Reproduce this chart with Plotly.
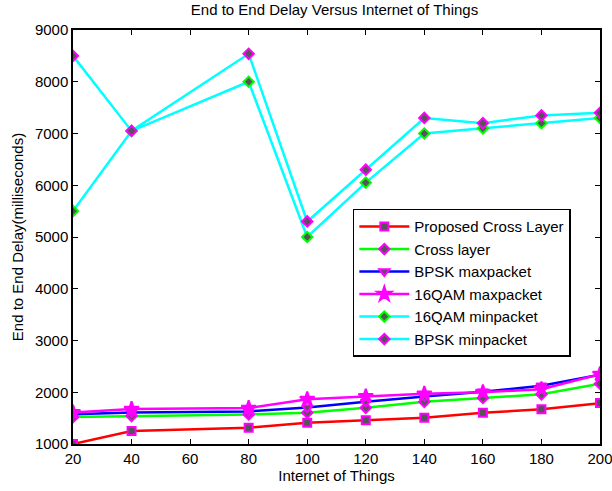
import plotly.graph_objects as go

x_vals = [20, 40, 80, 100, 120, 140, 160, 180, 200]

proposed_cross_layer = [1000, 1250, 1315, 1410, 1460, 1505, 1605, 1670, 1790]
cross_layer = [1520, 1540, 1570, 1605, 1700, 1815, 1890, 1960, 2165]
bpsk_maxpacket = [1575, 1610, 1630, 1705, 1815, 1920, 2010, 2125, 2340]
qam16_maxpacket = [1610, 1675, 1695, 1865, 1920, 1970, 2000, 2060, 2350]
qam16_minpacket = [5500, 7050, 8000, 5000, 6050, 7000, 7100, 7200, 7300]
bpsk_minpacket = [8500, 7050, 8540, 5300, 6300, 7300, 7200, 7350, 7400]

x_ticks = [20, 40, 60, 80, 100, 120, 140, 160, 180, 200]
y_ticks = [1000, 2000, 3000, 4000, 5000, 6000, 7000, 8000, 9000]

FONT = "Liberation Sans, Arial, Helvetica, sans-serif"

series = [
    ("Proposed Cross Layer", proposed_cross_layer, "#ff0000", "square", "#555555", "#ff00ff", 8),
    ("Cross layer", cross_layer, "#00ff00", "diamond", "#555555", "#ff00ff", 8),
    ("BPSK maxpacket", bpsk_maxpacket, "#0000ff", "triangle-down", "#555555", "#ff00ff", 9),
    ("16QAM maxpacket", qam16_maxpacket, "#ff00ff", "star", "#ff00ff", "#ff00ff", 11),
    ("16QAM minpacket", qam16_minpacket, "#00ffff", "diamond", "#555555", "#00ff00", 8),
    ("BPSK minpacket", bpsk_minpacket, "#00ffff", "diamond", "#555555", "#ff00ff", 8),
]

fig = go.Figure()
for name, vals, lc, sym, face, edge, size in series:
    fig.add_trace(go.Scatter(
        x=x_vals, y=vals, name=name, mode="lines+markers",
        line=dict(color=lc, width=2.5),
        marker=dict(symbol=sym, size=size, color=face, line=dict(color=edge, width=2)),
    ))

axis_common = dict(
    showgrid=False, zeroline=False, showline=True, linecolor="black", linewidth=1.5,
    mirror="ticks", ticks="inside", ticklen=5, tickcolor="black", automargin=False,
    ticklabeloverflow="allow",
    tickfont=dict(family=FONT, size=15, color="black"),
)

fig.update_xaxes(range=[20, 200], tickvals=x_ticks,
                 title=dict(text="Internet of Things", standoff=2,
                            font=dict(family=FONT, size=15, color="black")),
                 **axis_common)
fig.update_yaxes(range=[1000, 9000], tickvals=y_ticks,
                 title=dict(text="End to End Delay(milliseconds)", standoff=8,
                            font=dict(family=FONT, size=15, color="black")),
                 **axis_common)

fig.update_layout(
    width=612, height=491,
    margin=dict(l=73, r=12, t=30, b=47),
    paper_bgcolor="white", plot_bgcolor="white",
    title=dict(text="End to End Delay Versus Internet of Things", x=0.5466, xanchor="center",
               y=1 - 4 / 491, yanchor="top",
               font=dict(family=FONT, size=15, color="black")),
    legend=dict(x=0.531, y=0.568, xanchor="left", yanchor="top",
                bgcolor="white", bordercolor="black", borderwidth=1.5,
                font=dict(family=FONT, size=15, color="black"),
                itemwidth=50, tracegroupgap=0),
    showlegend=True,
)

fig.write_html(
    "out.html",
    config={"displayModeBar": False},
    post_script="document.body.style.margin='0';document.body.style.overflow='hidden';",
)
